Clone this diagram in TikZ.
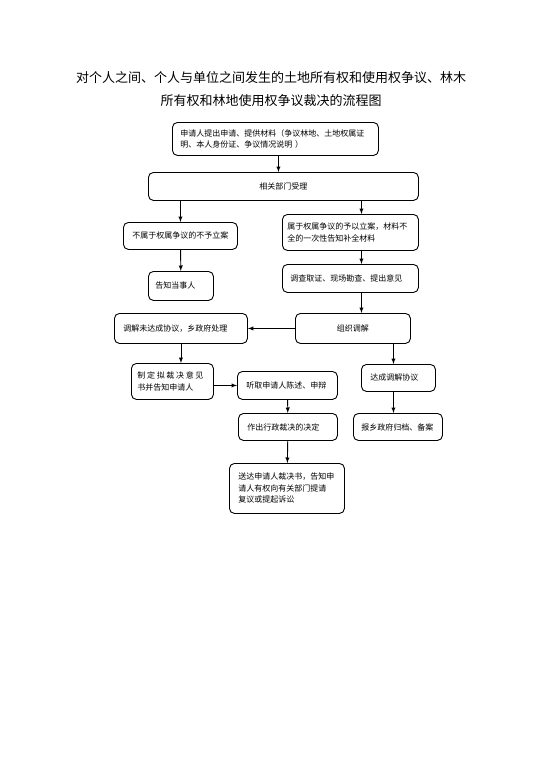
\documentclass[tikz,border=0pt]{standalone}
\usepackage{fontspec}
\setmainfont{Noto Sans CJK SC}
\usetikzlibrary{positioning}

\begin{document}
\begin{tikzpicture}[
  x=1pt, y=-1pt,
  box/.style={draw, rounded corners=5pt, line width=0.9pt, anchor=north west,
              font=\fontsize{8}{11.5}\selectfont, inner ysep=2pt},
  arrow/.style={-latex, line width=0.9pt},
  heading/.style={font=\fontsize{13}{23}\selectfont, align=center}
]
\useasboundingbox (0,0) rectangle (542,768);

\node[heading] (title) at (271,89) {对个人之间、个人与单位之间发生的土地所有权和使用权争议、林木\\所有权和林地使用权争议裁决的流程图};

\node[box, minimum width=206, minimum height=33, text width=190, inner xsep=8, align=left] (apply) at (172,122)
  {申请人提出申请、提供材料（争议林地、土地权属证\\明、本人身份证、争议情况说明 ）};
\node[box, minimum width=270, minimum height=28, text width=254, inner xsep=8, align=center] (accept) at (148,172) {相关部门受理};
\node[box, minimum width=114, minimum height=27, text width=100, inner xsep=7, align=center] (reject) at (123,222) {不属于权属争议的不予立案};
\node[box, minimum width=136, minimum height=36, text width=126, inner xsep=5, align=left] (file) at (282,214)
  {属于权属争议的予以立案，材料不\\全的一次性告知补全材料};
\node[box, minimum width=65, minimum height=29, text width=51, inner xsep=7, align=left] (notify) at (148,271) {告知当事人};
\node[box, minimum width=136, minimum height=28, text width=120, inner xsep=8, align=left] (invest) at (282,264) {调查取证、现场勘查、提出意见};
\node[box, minimum width=115, minimum height=30, text width=101, inner xsep=7, align=center] (mediate) at (295,313) {组织调解};
\node[box, minimum width=133, minimum height=30, text width=115, inner xsep=9, align=left] (fail) at (114,313) {调解未达成协议，乡政府处理};
\node[box, minimum width=82, minimum height=36, text width=70, inner xsep=6, align=left] (draft) at (131,363)
  {\makebox[66pt][s]{制\hfil 定\hfil 拟\hfil 裁\hfil 决\hfil 意\hfil 见}\\书并告知申请人};
\node[box, minimum width=100, minimum height=28, text width=82, inner xsep=9, align=left] (hear) at (237,371) {听取申请人陈述、申辩};
\node[box, minimum width=99, minimum height=27, text width=81, inner xsep=9, align=left] (decide) at (238,413) {作出行政裁决的决定};
\node[box, minimum width=74, minimum height=27, text width=56, inner xsep=9, align=left] (agree) at (361,364) {达成调解协议};
\node[box, minimum width=89, minimum height=27, text width=73, inner xsep=8, align=left] (archive) at (353,413) {报乡政府归档、备案};
\node[box, minimum width=115, minimum height=50, text width=97, inner xsep=9, align=left] (serve) at (229,463)
  {送达申请人裁决书，告知申\\请人有权向有关部门提请\\复议或提起诉讼};

% arrows
\draw[arrow] ([xshift=3pt]apply.south) -- ([xshift=3pt]apply.south |- accept.north);
\draw[arrow] (accept.south -| reject.north) -- (reject);
\draw[arrow] ([xshift=11pt]file.north |- accept.south) -- ([xshift=11pt]file.north);
\draw[arrow] (reject) -- (notify);
\draw[arrow] ([xshift=11pt]file.south) -- ([xshift=11pt]invest.north);
\draw[arrow] ([xshift=11pt]invest.south) -- ([xshift=11pt]invest.south |- mediate.north);
\draw[arrow] (mediate.west |- fail) -- (fail);
\draw[arrow] (fail.south) -- (fail.south |- draft.north);
\draw[arrow] (draft.east |- hear) -- (hear);
\draw[arrow] (hear) -- (decide);
\draw[arrow] ([xshift=-5pt]agree.north |- mediate.south) -- ([xshift=-5pt]agree.north);
\draw[arrow] ([xshift=-5pt]agree.south) -- ([xshift=-5pt]agree.south |- archive.north);
\draw[arrow] (decide) -- (serve);
\end{tikzpicture}
\end{document}
